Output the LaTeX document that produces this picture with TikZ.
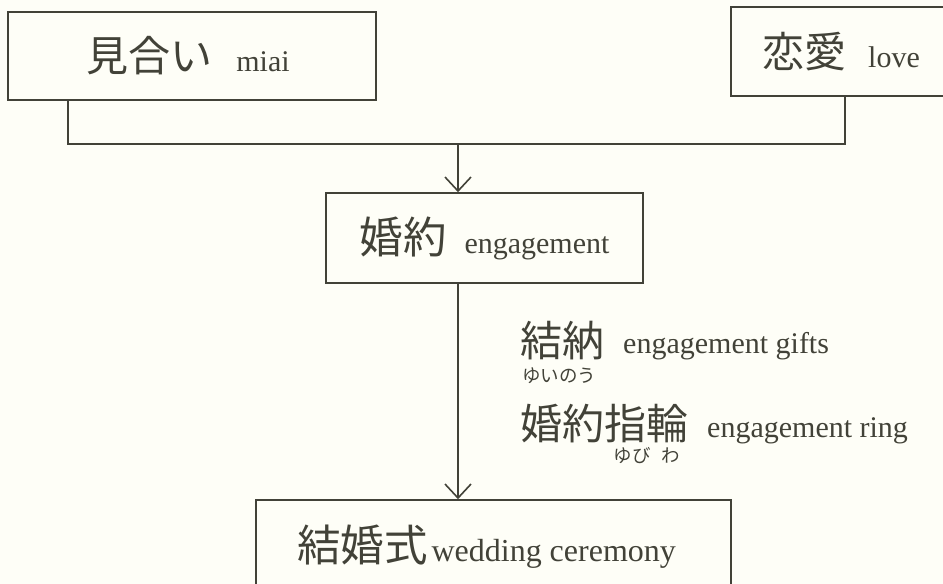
\documentclass[tikz,border=0pt]{standalone}
\usepackage{fontspec}
\setmainfont{Liberation Serif}
\newfontfamily\cjk{Noto Sans CJK JP}
\usetikzlibrary{arrows.meta}
\definecolor{inkc}{RGB}{66,66,56}
\definecolor{paperc}{RGB}{254,254,247}
\newcommand\jbig{\cjk\fontsize{42}{46}\selectfont}
\newcommand\jhuge{\cjk\fontsize{43.5}{48}\selectfont}
\newcommand\ebig{\rmfamily\fontsize{30}{34}\selectfont}
\newcommand\ehuge{\rmfamily\fontsize{32}{36}\selectfont}
\newcommand\jruby{\cjk\fontsize{18.5}{20}\selectfont}
\begin{document}
\begin{tikzpicture}[x=1pt,y=-1pt,
  box/.style={draw=inkc, line width=1.6pt, inner sep=0pt, text=inkc},
  lbl/.style={inner sep=0pt, text=inkc, anchor=base west},
  ruby/.style={inner sep=0pt, text=inkc},
  conn/.style={draw=inkc, line width=1.6pt},
  arr/.style={conn, -{Straight Barb[length=14pt,width=26pt]}}]
\fill[paperc] (0,0) rectangle (943,584);
\clip (0,0) rectangle (943,584);
% boxes
\node[box, minimum width=368pt, minimum height=88pt] (miai) at (192,56)
  {\jbig 見合い\hspace{24pt}\ebig miai\kern8pt\relax};
\node[box, minimum width=220pt, minimum height=89pt] (love) at (841,51.5)
  {\jbig 恋愛\hspace{22pt}\ebig love};
\node[box, minimum width=317pt, minimum height=90pt] (eng) at (484.5,238)
  {\jhuge 婚約\hspace{18pt}\ebig engagement};
\node[box, minimum width=475pt, minimum height=94pt] (wed) at (493.5,547)
  {\jhuge 結婚式\hspace{4pt}\ehuge wedding ceremony\kern14pt\relax};
% connectors
\coordinate (jl) at (68,144);
\coordinate (jr) at (845,144);
\coordinate (jm) at (458,144);
\draw[conn] (miai.south -| jl) -- (jl) -- (jr) -- (love.south -| jr);
\draw[arr] (jm) -- (eng.north -| jm);
\draw[arr] (eng.south -| jm) -- (wed.north -| jm);
% side labels
\node[lbl] (yk) at (520,356) {\jbig 結納};
\node[lbl] (ye) at (623,353) {\ebig engagement gifts};
\node[ruby] (yr) at (559,376) {\jruby ゆいのう};
\node[lbl] (rk) at (520,439) {\jbig 婚約指輪};
\node[lbl] (re) at (707,437) {\ebig engagement ring};
\node[ruby] (rr1) at (632,456) {\jruby ゆび};
\node[ruby] (rr2) at (671,456) {\jruby わ};
\end{tikzpicture}
\end{document}
